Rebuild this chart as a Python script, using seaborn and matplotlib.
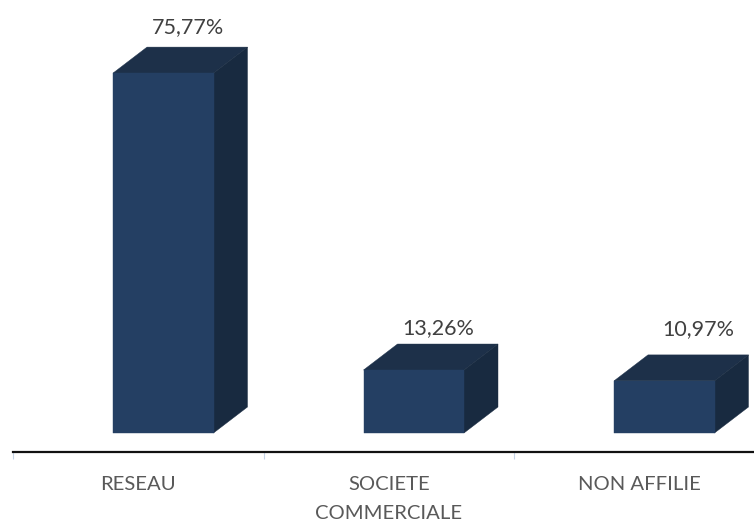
import matplotlib
matplotlib.use('Agg')
import matplotlib.pyplot as plt
import pandas as pd
import seaborn as sns
from matplotlib.patches import Polygon
from matplotlib.ticker import FixedLocator

categories = ['RESEAU', 'SOCIETE\nCOMMERCIALE', 'NON AFFILIE']
values = [75.77, 13.26, 10.97]
value_labels = ['75,77%', '13,26%', '10,97%']

FRONT = '#243F63'
TOP = '#1D3049'
SIDE = '#182A40'

sns.set_theme(style='white')
plt.rcParams['font.family'] = ['Lato', 'DejaVu Sans']

W, H = 754, 520
PX_CAT = 250.5   # pixels per category
PX_VAL = 4.75    # pixels per percent
DEPTH_X = 34 / PX_CAT
DEPTH_Y = 26 / PX_VAL
SHIFT = 25 / PX_CAT

fig = plt.figure(figsize=(W / 100, H / 100), dpi=100)
ax = fig.add_axes([13 / W, (H - 452) / H, 741 / W, 452 / H])

df = pd.DataFrame({'cat': categories, 'val': values})
sns.barplot(data=df, x='cat', y='val', color=FRONT, saturation=1,
            width=100.5 / PX_CAT, ax=ax, zorder=3)

# fake 3D: top and side faces built from each bar, label gaps in pixels
for bar, lab, gap, nudge in zip(ax.patches, value_labels, [46, 42, 52], [24.5, 24.5, 34]):
    bar.set_x(bar.get_x() + SHIFT)
    bar.set_edgecolor(FRONT)
    bar.set_linewidth(0.3)
    x0, w, h = bar.get_x(), bar.get_width(), bar.get_height()
    x1 = x0 + w
    ax.add_patch(Polygon([(x0, h), (x1, h), (x1 + DEPTH_X, h + DEPTH_Y), (x0 + DEPTH_X, h + DEPTH_Y)],
                         facecolor=TOP, edgecolor=TOP, linewidth=0.3, zorder=2, clip_on=False))
    ax.add_patch(Polygon([(x1, 0), (x1 + DEPTH_X, DEPTH_Y), (x1 + DEPTH_X, h + DEPTH_Y), (x1, h)],
                         facecolor=SIDE, edgecolor=SIDE, linewidth=0.3, zorder=2, clip_on=False))
    ax.text(x0 + w / 2 + nudge / PX_CAT, h + gap / PX_VAL, lab, ha='center', va='center',
            fontsize=15.5, color='#404040')

ax.set_xlim(-0.5, (W - 13) / PX_CAT - 0.5)
ax.set_ylim(-19 / PX_VAL, 433 / PX_VAL)
ax.set_xlabel('')
ax.set_ylabel('')
ax.set_yticks([])

for s in ['top', 'left', 'right']:
    ax.spines[s].set_visible(False)
ax.spines['bottom'].set_color('#111111')
ax.spines['bottom'].set_linewidth(1.6)

ax.xaxis.set_minor_locator(FixedLocator([-0.5, 0.5, 1.5]))
ax.tick_params(axis='x', which='minor', bottom=True, length=5, width=0.8, color='#C5D3E6')
ax.tick_params(axis='x', which='major', bottom=False, pad=11, labelsize=14.6, labelcolor='#595959')
for t in ax.get_xticklabels():
    t.set_linespacing(1.85)
    t.set_va('top')

fig.savefig('out.png', dpi=100, facecolor='white')
